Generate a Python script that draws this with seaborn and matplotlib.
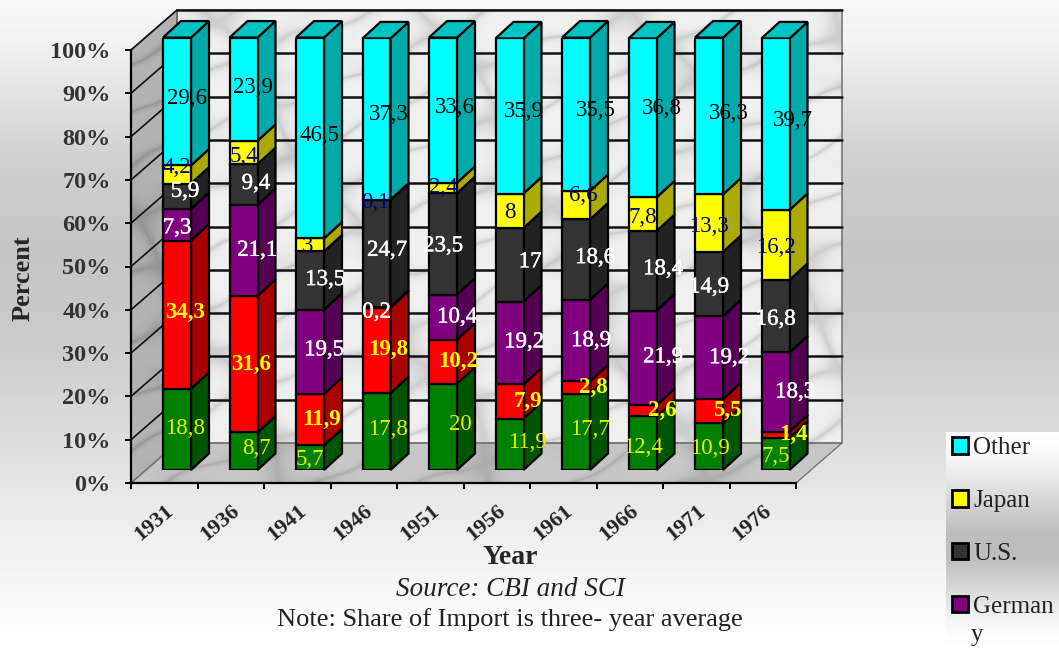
import numpy as np
import matplotlib
matplotlib.use('Agg')
import matplotlib.pyplot as plt
import matplotlib.patheffects as pe
from matplotlib.patches import Patch, Polygon
from matplotlib.transforms import ScaledTranslation
import seaborn as sns

years = ['1931', '1936', '1941', '1946', '1951', '1956', '1961', '1966', '1971', '1976']
green_share = [18.8, 8.7, 5.7, 17.8, 20, 11.9, 17.7, 12.4, 10.9, 7.5]
red_share = [34.3, 31.6, 11.9, 19.8, 10.2, 7.9, 2.8, 2.6, 5.5, 1.4]
germany = [7.3, 21.1, 19.5, 0.2, 10.4, 19.2, 18.9, 21.9, 19.2, 18.3]
us = [5.9, 9.4, 13.5, 24.7, 23.5, 17, 18.6, 18.4, 14.9, 16.8]
japan = [4.2, 5.4, 3, 0.1, 2.4, 8, 6.6, 7.8, 13.3, 16.2]
other = [29.6, 23.9, 46.5, 37.3, 33.6, 35.9, 35.5, 36.8, 36.3, 39.7]
pct_ticks = list(range(0, 101, 10))

W, H = 1059, 648

sns.set_theme(style='white')
plt.rcParams['font.family'] = ['Liberation Serif', 'DejaVu Serif']

# the value labels wander off the segment centres in the original, px right / px down
green_dx = [8, 13, 0, 11.5, 17, 17.5, 14, 0, 1, 0]
green_dy = [-1, -3, 2, -2, -2, -2, -2, 4, 2, 3]
red_dx = [8, 7.5, 12, 11.5, 15, 18.5, 17, 19.5, 18, 17.5]
red_dy = [-2, 0, 0, -1, 0, 0, 0, 0, -1, 0]
germany_dx = [0, 13.5, 14, 0, 14, 14.5, 15, 20.5, 20, 19.5]
germany_dy = [3, 0, -2, 5, 0, -1, 0, -1, 0, 0]
us_dx = [8, 12.5, 15, 10.5, 0, 20.5, 19, 20.5, 0, 0]
us_dy = [-5, -1, -1, -3, 2, -3, -2, -2, 3, 3]
japan_dx = [0, 0.5, -2, -1.5, 0, 0, 7, 0, 0, 0]
japan_dy = [-7, 4, 2, 3, 0, 2, -10, 3, 3, 3]
other_dx = [10, 9.5, 9, 12.5, 12, 14.5, 20, 19.5, 20, 17.5]
other_dy = [-3, -2, -3, -5, -3, -4, -4, -9, -2, -4]

series = [
    (green_share, '#008000', '#005500', '#e6f000', 'normal', green_dx, green_dy),
    (red_share, '#ff0000', '#aa0000', '#ffff00', 'bold', red_dx, red_dy),
    (germany, '#800080', '#550055', 'white', 'normal', germany_dx, germany_dy),
    (us, '#333333', '#222222', 'white', 'normal', us_dx, us_dy),
    (japan, '#ffff00', '#aaaa00', '#000080', 'normal', japan_dx, japan_dy),
    (other, '#00ffff', '#00aaaa', 'black', 'normal', other_dx, other_dy),
]


def pixel_axes(left, top, right, bottom):
    return fig.add_axes([left / W, 1 - bottom / H, (right - left) / W, (bottom - top) / H])


def marble(shape, light, dark):
    yy, xx = np.mgrid[0:shape[0], 0:shape[1]]
    warp = 14 * np.sin(xx / 37.0 + yy / 53.0) + 8 * np.sin(xx / 19.0 - yy / 23.0)
    veins = 1 - np.abs(np.sin((xx + 2.3 * yy + warp) / 41.0) * np.sin((xx - 0.6 * yy - warp) / 67.0))
    blotch = 0.5 + 0.5 * np.sin(xx / 43.0 + 3 * np.sin(yy / 29.0)) * np.sin(yy / 31.0 + 2 * np.sin(xx / 47.0))
    v = 0.75 * veins ** 7 + 0.25 * blotch ** 3
    return light + (dark - light) * v


fig = plt.figure(figsize=(W / 100, H / 100), dpi=100)

# page background, walls and floor in pixel space
bg = fig.add_axes([0, 0, 1, 1])
stops_y = [0, 40, 100, 165, 250, 330, 420, 540, 648]
stops_v = [0.97, 0.95, 0.88, 0.81, 0.77, 0.79, 0.85, 0.94, 1.0]
grad = np.interp(np.arange(H), stops_y, stops_v)[:, None]
bg.imshow(grad, cmap='gray', vmin=0, vmax=1, extent=(0, W, H, 0), aspect='auto')

front_x0, front_x1, front_y0, front_y1 = 131, 796, 483, 50
deep_x, deep_y, wall_top = 46, 40, 10
px_per_pct = (front_y0 - front_y1) / 100

back = Polygon([(front_x0 + deep_x, wall_top), (front_x1 + deep_x, wall_top),
                (front_x1 + deep_x, front_y0 - deep_y), (front_x0 + deep_x, front_y0 - deep_y)],
               fc='none', ec='#777777', lw=1.2)
side = Polygon([(front_x0, front_y1), (front_x0 + deep_x, wall_top),
                (front_x0 + deep_x, front_y0 - deep_y), (front_x0, front_y0)],
               fc='none', ec='#666666', lw=1)
floor = Polygon([(front_x0, front_y0), (front_x0 + deep_x, front_y0 - deep_y),
                 (front_x1 + deep_x, front_y0 - deep_y), (front_x1, front_y0)],
                fc='none', ec='#777777', lw=1)
for poly, light, dark in [(back, 0.94, 0.76), (side, 0.70, 0.54), (floor, 0.78, 0.64)]:
    bg.add_patch(poly)
    img = bg.imshow(marble((H, W), light, dark), cmap='gray', vmin=0, vmax=1,
                    extent=(0, W, H, 0), aspect='auto')
    img.set_clip_path(poly)
    poly.set_zorder(img.get_zorder() + 1)

for t in pct_ticks:
    y = front_y0 - t * px_per_pct
    if t > 0:
        bg.plot([front_x0, front_x0 + deep_x], [y, y - deep_y], color='#111111', lw=1.2)
        bg.plot([front_x0 + deep_x, front_x1 + deep_x], [y - deep_y, y - deep_y], color='#111111', lw=1.8)

# legend panel
panel_v = np.interp(np.arange(216), [0, 25, 100, 125, 190, 216], [1.0, 0.97, 0.74, 0.74, 0.97, 1.0])[:, None]
bg.imshow(panel_v, cmap='gray', vmin=0, vmax=1, extent=(946, W, 648, 432), aspect='auto')
bg.set_xlim(0, W)
bg.set_ylim(H, 0)
bg.axis('off')

# front plane, only carries the axes
ax = pixel_axes(front_x0, front_y1, front_x1, front_y0)
ax.patch.set_alpha(0)
ax.set_xlim(-0.5, 9.5)
ax.set_ylim(0, 100)
ax.set_yticks(pct_ticks)
ax.set_yticklabels([f'{t}%' for t in pct_ticks], fontsize=17.5, fontweight='bold', color='#333333')
ax.set_xticks(np.arange(-0.5, 10, 1))
ax.set_xticklabels([])
ax.set_xticks(range(10), years, minor=True, rotation=40, ha='right', rotation_mode='anchor',
              fontsize=16, fontweight='bold', color='#222222')
shift = ScaledTranslation(-10 / 100, 0, fig.dpi_scale_trans)
for lab in ax.get_xticklabels(minor=True):
    lab.set_transform(lab.get_transform() + shift)
ax.tick_params(axis='x', which='major', length=4.5, width=1.4, color='black', bottom=True)
ax.tick_params(axis='x', which='minor', length=0, pad=13, bottom=True)
ax.tick_params(axis='y', length=4.5, width=1.4, color='black', left=True, pad=10)
ax.set_ylabel('Percent', fontsize=19, fontweight='bold', va='center')
ax.yaxis.set_label_coords((23 - front_x0) / (front_x1 - front_x0), (483 - 278) / 433)
ax.set_xlabel('Year', fontsize=20, fontweight='bold', va='center')
ax.xaxis.set_label_coords((510 - front_x0) / (front_x1 - front_x0), -(558 - 483) / 433)
for name in ['top', 'right']:
    ax.spines[name].set_visible(False)
for name in ['left', 'bottom']:
    ax.spines[name].set_color('black')
    ax.spines[name].set_linewidth(1.6)

# bars sit on their own plane, a little behind the front one
bar_w = 28 / 66.5
dx, dy = 18 / 66.5, 16.5 / 4.32
bar_ax = pixel_axes(143.75, 38, 808.75, 470)
bar_ax.patch.set_alpha(0)
bottoms = np.zeros(len(years))
for values, colour, side_colour, label_colour, weight, shift_x, shift_y in series:
    values = np.array(values, dtype=float)
    sns.barplot(x=years, y=values, bottom=bottoms, color=colour, saturation=1, width=bar_w,
                edgecolor='black', linewidth=1.6, ax=bar_ax, zorder=3)
    tops = bottoms + values
    for i in range(len(years)):
        xr = i + bar_w / 2
        bar_ax.add_patch(Polygon([(xr, bottoms[i]), (xr + dx, bottoms[i] + dy),
                                  (xr + dx, tops[i] + dy), (xr, tops[i])],
                                 fc=side_colour, ec='black', lw=1.6, zorder=2, clip_on=False))
        if colour == '#00ffff':
            xl = i - bar_w / 2
            bar_ax.add_patch(Polygon([(xl, tops[i]), (xl + dx, tops[i] + dy),
                                      (xr + dx, tops[i] + dy), (xr, tops[i])],
                                     fc='#00c4c4', ec='black', lw=1.6, zorder=2, clip_on=False))
    bottoms = tops

bottoms = np.zeros(len(years))
for values, colour, side_colour, label_colour, weight, shift_x, shift_y in series:
    for i, v in enumerate(values):
        t = bar_ax.annotate(f'{v:g}'.replace('.', ','), (i, bottoms[i] + v / 2),
                            xytext=(shift_x[i] * 0.72, -shift_y[i] * 0.72), textcoords='offset points',
                            ha='center', va='center', fontsize=16.5, color=label_colour,
                            fontweight=weight, zorder=5, annotation_clip=False)
        if label_colour == 'white':
            t.set_path_effects([pe.withStroke(linewidth=0.3, foreground='white')])
    bottoms = bottoms + np.array(values)

bar_ax.set_xlim(-0.5, 9.5)
bar_ax.set_ylim(0, 100)
bar_ax.axis('off')

handles = [Patch(fc=s[1], ec='black', lw=2) for s in [series[5], series[4], series[3], series[2]]]
fig.legend(handles, ['Other', 'Japan', 'U.S.', 'German'], loc='upper left',
           bbox_to_anchor=(947 / W, 1 - 432 / H), frameon=False, fontsize=18, handlelength=0.65,
           handleheight=0.65, handletextpad=0.2, labelspacing=1.23, borderpad=0.2, borderaxespad=0,
           labelcolor='#222222')
fig.text(977 / W, 1 - 635 / H, 'y', ha='center', va='center', fontsize=18, color='#222222')

fig.text(511 / W, 1 - 589 / H, 'Source: CBI and SCI', ha='center', va='center',
         fontsize=19.5, fontstyle='italic', color='#222222')
fig.text(510 / W, 1 - 620 / H, 'Note: Share of Import is three- year average', ha='center', va='center',
         fontsize=19, color='#222222')

fig.savefig('out.png', dpi=100)
